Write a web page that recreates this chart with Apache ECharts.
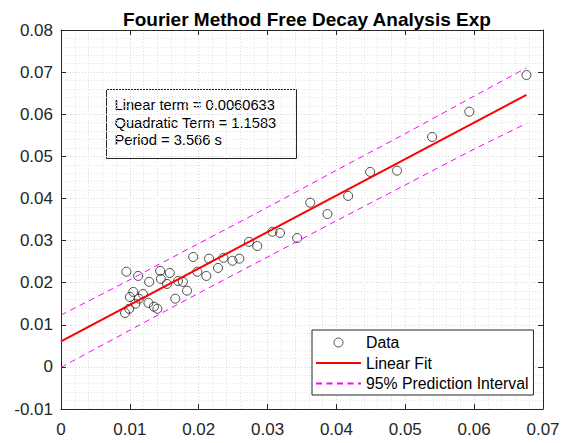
<!DOCTYPE html>
<html><head><meta charset="utf-8">
<script src="https://cdn.jsdelivr.net/npm/echarts@6/dist/echarts.min.js"></script>
<style>html,body{margin:0;padding:0;background:#fff}#c{width:569px;height:443px}</style>
</head><body><div id="c"></div>
<script>
const titleText = 'Fourier Method Free Decay Analysis Exp';
const legendNames = ['Data', 'Linear Fit', '95% Prediction Interval'];
const annotationLines = ['Linear term = 0.0060633', 'Quadratic Term = 1.1583', 'Period = 3.566 s'];

const dataX = [0.0676,0.0593,0.0539,0.0488,0.0449,0.0417,0.0387,0.0362,0.0343,0.0318,0.0307,0.0285,0.0273,0.0259,0.0249,0.0236,0.0228,0.0215,0.0192,
  0.0198,0.0211,0.0183,0.0166,0.0177,0.0170,0.0158,0.0154,0.0145,0.0144,0.0128,0.0112,0.0095,0.0105,0.0100,0.0119,0.0113,0.0108,0.0093,0.0099,0.0127,0.0135,0.0140];
const dataY = [0.0693,0.0606,0.0546,0.0466,0.0463,0.0406,0.0363,0.0390,0.0306,0.0318,0.0321,0.0287,0.0297,0.0257,0.0252,0.0259,0.0235,0.0257,0.0261,
  0.0226,0.0216,0.0181,0.0162,0.0202,0.0204,0.0223,0.0197,0.0209,0.0228,0.0202,0.0216,0.0226,0.0178,0.0166,0.0173,0.0162,0.0150,0.0128,0.0138,0.0152,0.0143,0.0138];

const fitX = [0, 0.0676];
const fitY = [0.0060633, 0.0646];

const piX = [0, 0.01, 0.02, 0.03, 0.04, 0.05, 0.06, 0.0676];
const piUpper = [0.0123, 0.0207, 0.0293, 0.0379, 0.0467, 0.0554, 0.0643, 0.0710];
const piLower = [-0.0001, 0.0087, 0.0175, 0.0261, 0.0347, 0.0432, 0.0517, 0.0578];

const xTickLabels = ['0','0.01','0.02','0.03','0.04','0.05','0.06','0.07'];
const yTickLabels = ['-0.01','0','0.01','0.02','0.03','0.04','0.05','0.06','0.07','0.08'];

const FONT = 'Liberation Sans, Arial, Helvetica, sans-serif';
const AXC = '#262626';
const chart = echarts.init(document.getElementById('c'), null, {renderer: 'svg'});

const zip = (a, b) => a.map((v, i) => [v, b[i]]);
const splitStyle = {show: true, lineStyle: {color: '#d6d6d6', type: [1, 2], width: 1}};
const minorStyle = {show: true, lineStyle: {color: '#e2e2e2', type: [1, 2], width: 1}};

const baseX = {
  type: 'value', min: 0, max: 0.07, interval: 0.01,
  axisLine: {show: true, onZero: false, lineStyle: {color: AXC, width: 1}},
  axisTick: {show: true, inside: true, length: 5, lineStyle: {color: AXC}},
  minorTick: {show: false, splitNumber: 5}
};
const baseY = {
  type: 'value', min: -0.01, max: 0.08, interval: 0.01,
  axisLine: {show: true, onZero: false, lineStyle: {color: AXC, width: 1}},
  axisTick: {show: true, inside: true, length: 5, lineStyle: {color: AXC}},
  minorTick: {show: false, splitNumber: 5}
};
const hideSym = {color: 'rgba(0,0,0,0)', borderWidth: 0, opacity: 0};

chart.setOption({
  animation: false,
  backgroundColor: '#fff',
  title: {
    text: titleText, left: 302, top: 5, textAlign: 'center',
    textStyle: {fontSize: 19, fontWeight: 'bold', color: '#000', fontFamily: FONT}
  },
  grid: {left: 61, top: 30, right: 26, bottom: 34, outerBoundsMode: 'none', containLabel: false},
  xAxis: [
    Object.assign({}, baseX, {
      position: 'bottom',
      axisLabel: {show: true, margin: 12, color: AXC, fontSize: 17, fontFamily: FONT,
        formatter: v => xTickLabels[Math.round(v / 0.01)]},
      splitLine: splitStyle, minorSplitLine: minorStyle
    }),
    Object.assign({}, baseX, {
      position: 'top', axisLabel: {show: false}, splitLine: {show: false}
    })
  ],
  yAxis: [
    Object.assign({}, baseY, {
      position: 'left',
      axisLabel: {show: true, margin: 8, color: AXC, fontSize: 17, fontFamily: FONT,
        formatter: v => yTickLabels[Math.round(v / 0.01) + 1]},
      splitLine: splitStyle, minorSplitLine: minorStyle
    }),
    Object.assign({}, baseY, {
      position: 'right', axisLabel: {show: false}, splitLine: {show: false}
    })
  ],
  legend: {
    orient: 'vertical', left: 312, top: 330,
    padding: [4, 5, 3, 3], itemGap: 3.5, itemWidth: 45, itemHeight: 9,
    backgroundColor: '#fff', borderColor: AXC, borderWidth: 1, borderRadius: 0,
    textStyle: {fontSize: 15.8, lineHeight: 17, color: '#000', fontFamily: FONT},
    data: [
      {name: legendNames[0], itemStyle: {borderWidth: 1, borderColor: '#222', color: 'rgba(255,255,255,0)'}},
      {name: legendNames[1], itemStyle: hideSym},
      {name: legendNames[2], itemStyle: hideSym}
    ]
  },
  graphic: [{
    type: 'group', left: 104, top: 87,
    children: [
      {type: 'rect', shape: {x: 0, y: 0, width: 190, height: 69},
       style: {fill: 'none', stroke: AXC, lineWidth: 1}},
      {type: 'text', x: 8, y: 7,
       style: {text: annotationLines.join('\n'), fontSize: 14.7, lineHeight: 17.5,
               fill: '#000', fontFamily: FONT}}
    ]
  }],
  series: [
    {
      name: legendNames[0], type: 'scatter', data: zip(dataX, dataY),
      symbol: 'circle', symbolSize: 9,
      itemStyle: {color: 'rgba(255,255,255,0)', borderColor: '#222', borderWidth: 1},
      z: 2
    },
    {
      name: legendNames[1], type: 'line', data: zip(fitX, fitY),
      symbol: 'none', lineStyle: {color: '#ff0000', width: 2}, itemStyle: {color: '#ff0000'}, z: 3
    },
    {
      name: legendNames[2], type: 'line', data: zip(piX, piUpper), smooth: 0.3,
      symbol: 'none', lineStyle: {color: '#ff00ff', width: 1, type: [6, 4.5]}, itemStyle: {color: '#ff00ff'}, z: 3
    },
    {
      name: legendNames[2], type: 'line', data: zip(piX, piLower), smooth: 0.3,
      symbol: 'none', lineStyle: {color: '#ff00ff', width: 1, type: [6, 4.5]}, itemStyle: {color: '#ff00ff'}, z: 3
    }
  ]
});
</script>
</body></html>
